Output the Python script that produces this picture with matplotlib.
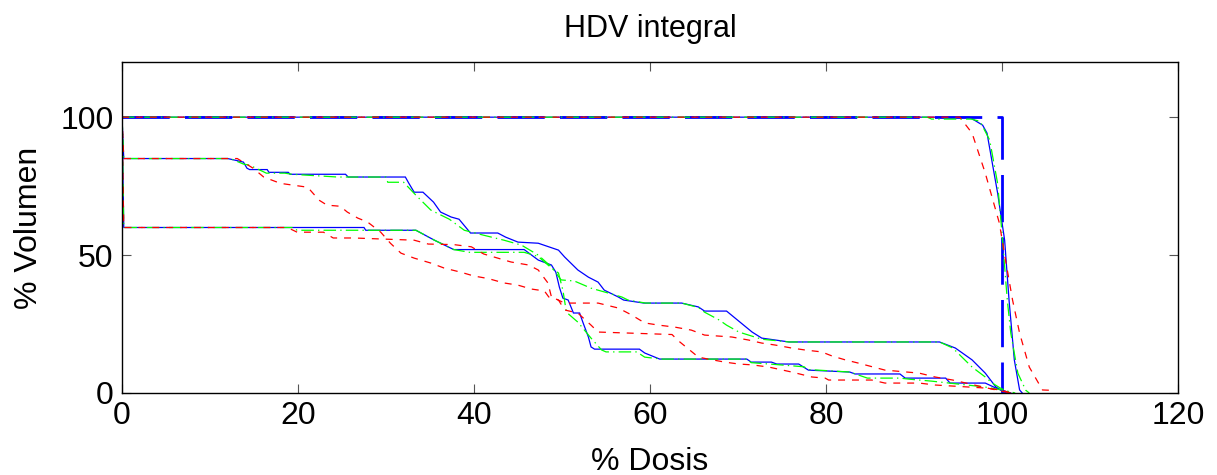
import matplotlib
matplotlib.use("Agg")
import matplotlib.pyplot as plt

plt.rcParams['font.family'] = ['Liberation Sans', 'DejaVu Sans']
plt.rcParams['lines.scale_dashes'] = False

# ---- data ----
ideal_x = [0, 100, 100]
ideal_y = [100, 100, 0]

ptv_blue_x = [0, 96.3, 97.8, 98.3, 98.9, 99.5, 100.3, 100.8, 101.4, 102.0, 102.3]
ptv_blue_y = [100, 100, 97.1, 94.2, 83.3, 72.5, 55.4, 33.7, 12.0, 1.1, 0]
ptv_green_x = [0, 91.5, 92.0, 96.5, 97.5, 98.6, 99.5, 100.0, 100.6, 101.0, 101.8, 102.7, 103.1]
ptv_green_y = [100, 100, 99.3, 99.3, 98.5, 91.7, 76.0, 58.0, 33.7, 21.7, 7.2, 1.0, 0]
ptv_red_x = [0, 95.2, 96.6, 98.1, 99.7, 100.4, 101.2, 102.0, 103.1, 104.6, 105.4, 106.0]
ptv_red_y = [100, 100, 94.2, 79.7, 61.6, 48.2, 33.7, 21.7, 9.4, 1.1, 1.0, 0]

o1_blue_x = [0, 0.2, 12.0, 13.0, 13.8, 14.2, 14.5, 16.5, 16.7, 18.9, 19.1, 25.4, 25.7, 32.2,
             32.6, 33.2, 34.2, 35.4, 36.2, 37.4, 38.3, 39.6, 42.7, 43.6, 45.0, 47.3, 49.6,
             50.3, 51.8, 53.0, 54.1, 54.8, 56.4, 57.0, 59.3, 63.6, 65.5, 66.2, 68.7, 71.6,
             72.7, 75.8, 92.9, 94.7, 96.6, 98.1, 99.3, 100.1, 100.5]
o1_blue_y = [100, 85, 85, 84.3, 83.7, 81.5, 81, 81, 80, 80, 79.3, 79.3, 78.3, 78.3,
             76, 72.8, 72.8, 69.2, 65.6, 63.8, 63, 58, 58, 56.5, 54.7, 54.3, 51.8,
             49.3, 44.6, 42, 40.2, 37.3, 34.8, 33.7, 32.6, 32.6, 31.2, 29.7, 29.7, 22.1,
             19.9, 18.5, 18.5, 16.3, 12, 7.2, 2.2, 0.5, 0]
o1_green_x = [0, 0.2, 12.3, 13.8, 14.5, 16.4, 18.5, 19.3, 24.5, 30.0, 30.2, 32.0, 33.4, 35.1,
              37.2, 38.9, 41.1, 43.4, 45.4, 47.3, 48.8, 49.9, 51.4, 53.3, 55.3, 56.8, 57.5,
              59.5, 63.6, 65.5, 66.2, 67.9, 68.7, 70.1, 71.9, 72.7, 75.8, 92.9, 94.4, 95.2,
              96.6, 98.1, 98.9, 99.8, 101.0]
o1_green_y = [100, 85, 85, 83, 82.6, 79.7, 79.7, 79.3, 78.3, 78.3, 76.4, 76.4, 71.7, 66.3,
              63, 59, 57.2, 55.4, 53.6, 50, 45.7, 41, 40.6, 38, 36.2, 34.8, 33.7,
              32.6, 32.6, 31, 29.3, 26.4, 24.6, 22.1, 20.3, 19.5, 18.5, 18.5, 16.3, 13.8,
              9.4, 5.8, 3.6, 1.8, 0]
o1_red_x = [0, 0.2, 13.1, 14.9, 16.1, 18.0, 21.1, 22.4, 23.3, 24.8, 25.6, 26.8, 27.9, 29.4,
            30.5, 31.7, 33.2, 35.1, 36.6, 38.5, 40.0, 41.6, 43.4, 45.0, 46.5, 48.0, 48.5,
            49.1, 50.3, 54.1, 56.4, 57.9, 59.4, 61.0, 62.8, 64.7, 66.2, 69.3, 71.2, 72.7,
            74.2, 76.1, 77.6, 79.5, 80.7, 82.2, 83.6, 86.7, 90.6, 92.4, 94.4, 95.9, 97.8,
            99.3, 101.0]
o1_red_y = [100, 85, 85, 81.5, 78.3, 76, 74.6, 69.9, 68.1, 67.7, 65.6, 63.4, 62, 58.3,
            54.3, 50.7, 48.9, 47.1, 45.3, 43.8, 42.4, 41.5, 39.9, 39.1, 37.7, 37, 34.8,
            34.4, 32.6, 32.6, 30.8, 28.3, 25.4, 24.6, 23.9, 22.8, 21, 20.3, 19.2, 18.1,
            17.4, 16.3, 15.6, 14.9, 13.4, 12, 10.9, 8.3, 7.2, 5.8, 4.7, 3.6, 2.2,
            1.1, 0]

o2_blue_x = [0, 0.2, 27.5, 27.7, 33.4, 35.5, 37.7, 45.7, 47.3, 48.8, 49.3, 49.7, 50.1, 50.7,
             51.3, 52.0, 52.4, 53.0, 53.3, 53.7, 58.8, 59.4, 61.1, 71.0, 71.5, 73.8, 74.4,
             76.9, 78.0, 82.7, 83.3, 88.4, 89.0, 93.6, 94.1, 98.1, 99.3, 100.5, 101.0]
o2_blue_y = [100, 60, 60, 59, 59, 55.4, 52, 52, 48.2, 46.4, 43.8, 38.4, 34.4, 33.7,
             29, 29, 25.4, 20.3, 16.7, 15.9, 15.9, 14.5, 12.3, 12.3, 11.2, 11.2, 10.5,
             10.5, 8.3, 7.6, 6.9, 6.9, 5.4, 5.4, 3.6, 3.6, 1.8, 0.5, 0]
o2_green_x = [0, 0.2, 19.5, 19.9, 33.4, 35.5, 37.7, 39.5, 45.7, 47.3, 48.8, 49.6, 50.1, 50.5,
              51.8, 53.3, 54.5, 55.0, 58.5, 59.4, 61.3, 71.0, 71.5, 74.4, 77.5, 78.0, 82.7,
              84.7, 88.4, 89.5, 92.0, 98.0, 100.2, 101.5]
o2_green_y = [100, 60, 60, 59, 59, 55.4, 52, 51, 51, 49.5, 45.3, 43.5, 37.3, 29.3,
              25.7, 19.9, 15.6, 14.9, 14.9, 13, 12.3, 12.3, 11, 10.3, 9.5, 8.5, 7.6,
              5.4, 5.4, 5, 4.3, 2.2, 1, 0]
o2_red_x = [0, 0.2, 18.8, 19.9, 22.9, 24.0, 26.3, 33.2, 34.8, 37.7, 39.7, 41.1, 42.7, 44.2,
            46.2, 47.3, 48.4, 48.8, 49.6, 50.3, 51.8, 53.3, 54.1, 62.5, 63.2, 65.5, 66.6,
            68.5, 70.1, 71.6, 73.5, 76.1, 78.4, 79.9, 80.3, 85.2, 86.7, 90.6, 92.4, 98.1,
            100.0, 101.0]
o2_red_y = [100, 60, 60, 58.3, 58.3, 56.2, 56.2, 55.4, 54, 53.8, 53, 50.4, 48.9, 47.5,
            46.4, 44.6, 39.9, 34.8, 33.7, 30.1, 29, 24.6, 22.1, 21.2, 19, 13, 12.3,
            11.2, 10.5, 10.2, 9.4, 7.6, 5.8, 5.4, 4.7, 4.7, 3.6, 3.6, 2.9, 1.8,
            1.0, 0]

x_ticks = [0, 20, 40, 60, 80, 100, 120]
y_ticks = [0, 50, 100]
title_text = "HDV integral"
x_label = "% Dosis"
y_label = "% Volumen"

# ---- figure ----
fig = plt.figure(figsize=(12.17, 4.75), dpi=100)
ax = fig.add_axes([122 / 1217, 1 - 393 / 475, (1178 - 122) / 1217, (393 - 62) / 475])

BLUE = (0, 0, 1)
GREEN = (0, 1, 0)
RED = (1, 0, 0)

ax.plot(ideal_x, ideal_y, color=BLUE, lw=2.0, dashes=(34, 11))

for xs, ys in [(ptv_blue_x, ptv_blue_y), (o1_blue_x, o1_blue_y), (o2_blue_x, o2_blue_y)]:
    ax.plot(xs, ys, color=BLUE, lw=0.9, solid_joinstyle='miter')
for xs, ys in [(ptv_green_x, ptv_green_y), (o1_green_x, o1_green_y), (o2_green_x, o2_green_y)]:
    ax.plot(xs, ys, color=GREEN, lw=0.9, dashes=(9, 3, 1, 3))
for xs, ys in [(ptv_red_x, ptv_red_y), (o1_red_x, o1_red_y), (o2_red_x, o2_red_y)]:
    ax.plot(xs, ys, color=RED, lw=0.9, dashes=(5, 5))

ax.set_xlim(0, 120)
ax.set_ylim(0, 120)
ax.set_xticks(x_ticks)
ax.set_yticks(y_ticks)
ax.tick_params(direction='in', length=6.5, width=0.8, color='#555555',
               top=True, right=True, labelsize=23, pad=6)
for s in ax.spines.values():
    s.set_linewidth(1.0)
    s.set_color('black')

ax.set_title(title_text, fontsize=22, pad=18)
ax.set_xlabel(x_label, fontsize=23, labelpad=11)
ax.set_ylabel(y_label, fontsize=23, labelpad=12)

fig.savefig("out.png", dpi=100)
